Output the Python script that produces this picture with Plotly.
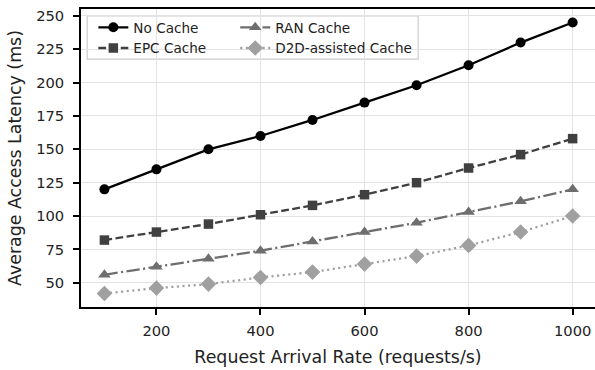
import plotly.graph_objects as go

rates = [100, 200, 300, 400, 500, 600, 700, 800, 900, 1000]
no_cache = [120, 135, 150, 160, 172, 185, 198, 213, 230, 245]
epc_cache = [82, 88, 94, 101, 108, 116, 125, 136, 146, 158]
ran_cache = [56, 62, 68, 74, 81, 88, 95, 103, 111, 120]
d2d_cache = [42, 46, 49, 54, 58, 64, 70, 78, 88, 100]

series = [
    ("No Cache", no_cache, "#000000", "circle", "solid", 10, "legend"),
    ("EPC Cache", epc_cache, "#404040", "square", "7.8px,3.4px", 9.5, "legend"),
    ("RAN Cache", ran_cache, "#6e6e6e", "triangle-up", "13.4px,3.4px,2.1px,3.4px", 11, "legend2"),
    ("D2D-assisted Cache", d2d_cache, "#a0a0a0", "diamond", "2.1px,3.5px", 12, "legend2"),
]

fig = go.Figure()
for name, vals, col, sym, dash, msize, leg in series:
    fig.add_trace(go.Scatter(
        x=rates, y=vals, name=name, mode="lines+markers",
        line=dict(color=col, width=2.3, dash=dash),
        marker=dict(symbol=sym, size=msize, color=col),
        legend=leg,
    ))

tfont = dict(family="DejaVu Sans", size=14.7, color="#222222")
titlefont = dict(family="DejaVu Sans", size=17.4, color="#222222")
lfont = dict(family="DejaVu Sans", size=13.6, color="#222222")
axis_common = dict(
    showline=True, linecolor="black", linewidth=1.7, mirror=True,
    ticks="outside", ticklen=6, tickwidth=1.5, tickcolor="black",
    showgrid=True, gridcolor="#e3e3e3", gridwidth=1, zeroline=False,
    tickfont=tfont, automargin=False,
)
fig.update_layout(
    width=595, height=370,
    margin=dict(l=81, r=0, t=9, b=63),
    paper_bgcolor="white", plot_bgcolor="white",
    xaxis=dict(range=[55, 1043], tickvals=[200, 400, 600, 800, 1000], ticklabelstandoff=4,
               title=dict(text="Request Arrival Rate (requests/s)", font=titlefont, standoff=12),
               **axis_common),
    yaxis=dict(range=[31.85, 255.15], tickvals=[50, 75, 100, 125, 150, 175, 200, 225, 250], ticklabelstandoff=6,
               title=dict(text="Average Access Latency (ms)", font=titlefont, standoff=10),
               **axis_common),
    legend=dict(x=0.024, y=0.99, xanchor="left", yanchor="top", bgcolor="rgba(0,0,0,0)",
                font=lfont, itemwidth=30, tracegroupgap=0),
    legend2=dict(x=0.30, y=0.99, xanchor="left", yanchor="top", bgcolor="rgba(0,0,0,0)",
                 font=lfont, itemwidth=30, tracegroupgap=0),
    shapes=[dict(type="rect", xref="paper", yref="paper", x0=0.012, x1=0.656, y0=0.832, y1=0.977,
                 line=dict(color="#cccccc", width=1.2), fillcolor="rgba(255,255,255,0.8)", layer="below")],
    showlegend=True,
)
fig.write_html("out.html")
